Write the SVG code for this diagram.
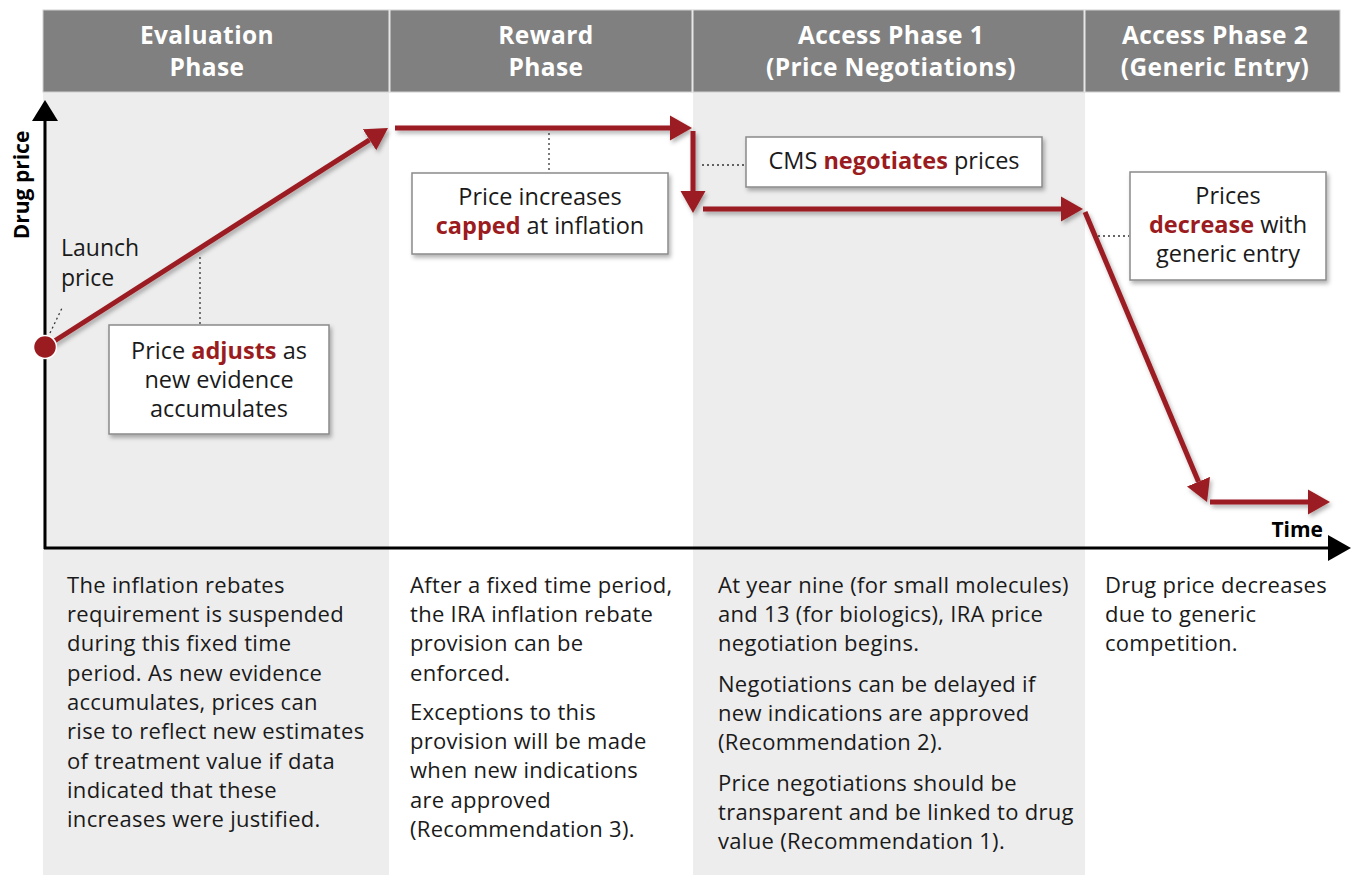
<svg xmlns="http://www.w3.org/2000/svg" width="1353" height="875" viewBox="0 0 1353 875">
<style>
.hdr{font-family:"Open Sans","Liberation Sans",sans-serif;font-weight:700;font-size:24.5px;letter-spacing:0.4px;fill:#fff;text-anchor:middle}
.body{font-family:"Open Sans","Liberation Sans",sans-serif;font-size:22px;letter-spacing:0.3px;fill:#1a1a1a}
.bx{font-family:"Open Sans","Liberation Sans",sans-serif;font-size:23.5px;fill:#1a1a1a;text-anchor:middle}
.red{font-weight:700;fill:#9b1c20}
.axl{font-family:"Open Sans","Liberation Sans",sans-serif;font-weight:700;font-size:21px;fill:#000}
.box{fill:#fff;stroke:#8a8a8a;stroke-width:1.5}
.dot{stroke:#333;stroke-width:1.3;stroke-dasharray:2 3;fill:none}
.arr{stroke:#9b1c20;stroke-width:5;fill:none;marker-end:url(#ah)}
</style>
<defs>
<marker id="ah" markerUnits="userSpaceOnUse" markerWidth="23" markerHeight="26" refX="0" refY="13" orient="auto">
<path d="M0,0.5 L22,13 L0,25.5 z" fill="#9b1c20"/>
</marker>
<filter id="sh" x="-10%" y="-10%" width="130%" height="140%">
<feDropShadow dx="2" dy="3" stdDeviation="2" flood-color="#000" flood-opacity="0.3"/>
</filter>
</defs>
<rect width="1353" height="875" fill="#fff"/>
<g id="columns">
<rect x="43" y="92" width="346" height="783" fill="#ededed"/>
<rect x="693" y="92" width="392" height="783" fill="#ededed"/>
</g>
<g id="header">
<rect x="43" y="10" width="1297" height="82" fill="#808080" stroke="#d0d0d0" stroke-width="1"/>
<line x1="389.5" y1="10" x2="389.5" y2="92" stroke="#e6e6e6" stroke-width="2"/>
<line x1="692.5" y1="10" x2="692.5" y2="92" stroke="#e6e6e6" stroke-width="2"/>
<line x1="1084.5" y1="10" x2="1084.5" y2="92" stroke="#e6e6e6" stroke-width="2"/>
<text class="hdr" x="207" y="44">Evaluation</text>
<text class="hdr" x="207" y="76">Phase</text>
<text class="hdr" x="546" y="44">Reward</text>
<text class="hdr" x="546" y="76">Phase</text>
<text class="hdr" x="891" y="44">Access Phase 1</text>
<text class="hdr" x="891" y="76">(Price Negotiations)</text>
<text class="hdr" x="1215" y="44">Access Phase 2</text>
<text class="hdr" x="1215" y="76">(Generic Entry)</text>
</g>
<g id="axes">
<line x1="45" y1="549" x2="45" y2="118" stroke="#000" stroke-width="3"/>
<polygon points="45,100 32,121 58,121" fill="#000"/>
<line x1="44" y1="548" x2="1330" y2="548" stroke="#000" stroke-width="3"/>
<polygon points="1351,548 1328,535 1328,561" fill="#000"/>
<text class="axl" transform="translate(29,185) rotate(-90)" text-anchor="middle">Drug price</text>
<text class="axl" x="1323" y="537" text-anchor="end">Time</text>
</g>
<g id="connectors">
<g filter="url(#sh)">
<line class="arr" x1="45" y1="347" x2="369.5" y2="139.8"/>
<line class="arr" x1="395" y1="128" x2="670" y2="128"/>
<line class="arr" x1="693" y1="131" x2="693" y2="191"/>
<line class="arr" x1="703" y1="209" x2="1061" y2="209"/>
<line class="arr" x1="1085" y1="212" x2="1198.5" y2="481.7"/>
<line class="arr" x1="1210" y1="502" x2="1308" y2="502"/>
</g>
<line class="dot" x1="50" y1="333" x2="62" y2="308"/>
<line class="dot" x1="200" y1="257" x2="200" y2="324"/>
<line class="dot" x1="549" y1="133" x2="549" y2="172"/>
<line class="dot" x1="702" y1="165" x2="745" y2="165"/>
<line class="dot" x1="1098" y1="236" x2="1129" y2="236"/>
</g>
<g id="launch">
<circle cx="45" cy="347" r="11.5" fill="#9b1c20" stroke="#fff" stroke-width="1.5"/>
<text class="body" style="font-size:23px;letter-spacing:0" x="61" y="256">Launch</text>
<text class="body" style="font-size:23px;letter-spacing:0" x="61" y="286">price</text>
</g>
<g id="box-adjusts">
<rect class="box" x="109" y="325" width="220" height="109" filter="url(#sh)"/>
<text class="bx" x="219" y="359">Price <tspan class="red">adjusts</tspan> as</text>
<text class="bx" x="219" y="388">new evidence</text>
<text class="bx" x="219" y="417">accumulates</text>
</g>
<g id="box-capped">
<rect class="box" x="412" y="173" width="256" height="81" filter="url(#sh)"/>
<text class="bx" x="540" y="205">Price increases</text>
<text class="bx" x="540" y="234"><tspan class="red">capped</tspan> at inflation</text>
</g>
<g id="box-cms">
<rect class="box" x="746" y="137" width="296" height="50" filter="url(#sh)"/>
<text class="bx" x="894" y="169">CMS <tspan class="red">negotiates</tspan> prices</text>
</g>
<g id="box-decrease">
<rect class="box" x="1130" y="172" width="196" height="108" filter="url(#sh)"/>
<text class="bx" x="1228" y="204">Prices</text>
<text class="bx" x="1228" y="233"><tspan class="red">decrease</tspan> with</text>
<text class="bx" x="1228" y="262">generic entry</text>
</g>
<g id="text-evaluation" class="body">
<text x="67" y="593">The inflation rebates</text>
<text x="67" y="622">requirement is suspended</text>
<text x="67" y="651">during this fixed time</text>
<text x="67" y="681">period. As new evidence</text>
<text x="67" y="710">accumulates, prices can</text>
<text x="67" y="739">rise to reflect new estimates</text>
<text x="67" y="769">of treatment value if data</text>
<text x="67" y="798">indicated that these</text>
<text x="67" y="827">increases were justified.</text>
</g>
<g id="text-reward" class="body">
<text x="410" y="593">After a fixed time period,</text>
<text x="410" y="622">the IRA inflation rebate</text>
<text x="410" y="651">provision can be</text>
<text x="410" y="681">enforced.</text>
<text x="410" y="720">Exceptions to this</text>
<text x="410" y="749">provision will be made</text>
<text x="410" y="778">when new indications</text>
<text x="410" y="808">are approved</text>
<text x="410" y="837">(Recommendation 3).</text>
</g>
<g id="text-access1" class="body">
<text x="718" y="593">At year nine (for small molecules)</text>
<text x="718" y="622">and 13 (for biologics), IRA price</text>
<text x="718" y="651">negotiation begins.</text>
<text x="718" y="692">Negotiations can be delayed if</text>
<text x="718" y="721">new indications are approved</text>
<text x="718" y="750">(Recommendation 2).</text>
<text x="718" y="791">Price negotiations should be</text>
<text x="718" y="820">transparent and be linked to drug</text>
<text x="718" y="849">value (Recommendation 1).</text>
</g>
<g id="text-access2" class="body">
<text x="1105" y="593">Drug price decreases</text>
<text x="1105" y="622">due to generic</text>
<text x="1105" y="651">competition.</text>
</g>
</svg>
